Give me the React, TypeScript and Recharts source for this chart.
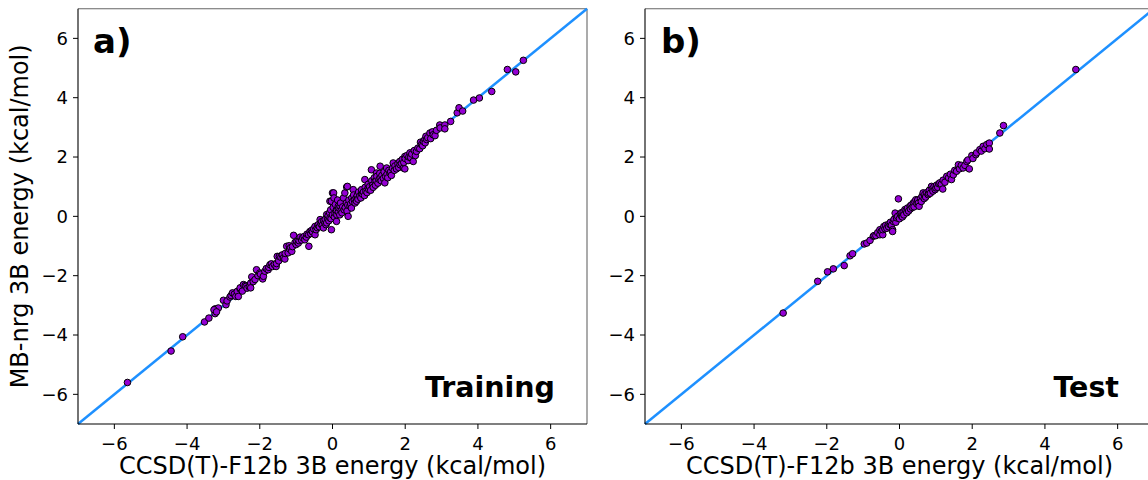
import React from 'react';
import { ScatterChart, Scatter, XAxis, YAxis, ReferenceLine } from 'recharts';

const tickValues = [-6, -4, -2, 0, 2, 4, 6];
const axisDomain: [number, number] = [-7, 7];
const xAxisTitle = 'CCSD(T)-F12b 3B energy (kcal/mol)';
const yAxisTitle = 'MB-nrg 3B energy (kcal/mol)';
const panelTags = ['a)', 'b)'];
const panelNames = ['Training', 'Test'];

// [reference CCSD(T)-F12b, MB-nrg] pairs, training set
const trainingPairs: [number, number][] = [
  [-5.64, -5.6], [-4.44, -4.54], [-4.12, -4.06], [-3.52, -3.56], [-3.4, -3.43], [-3.23, -3.28],
  [-3.23, -3.12], [-3.14, -3.09], [-3.26, -3.15], [-3.19, -3.22], [-3.0, -2.83], [-2.93, -2.98],
  [-2.9, -2.85], [-2.82, -2.72], [-2.79, -2.67], [-2.75, -2.58], [-2.7, -2.62], [-2.66, -2.7],
  [-2.62, -2.53], [-2.59, -2.7], [-2.54, -2.45], [-2.54, -2.41], [-2.48, -2.52], [-2.45, -2.3],
  [-2.4, -2.33], [-2.38, -2.36], [-2.35, -2.42], [-2.29, -2.38], [-2.25, -2.25], [-2.25, -2.41],
  [-2.22, -2.04], [-2.18, -2.2], [-2.13, -2.13], [-2.09, -1.8], [-2.05, -2.0], [-2.0, -1.91],
  [-1.98, -1.95], [-1.92, -2.11], [-1.9, -2.02], [-1.86, -1.85], [-1.82, -1.76], [-1.77, -1.8],
  [-1.75, -1.72], [-1.72, -1.63], [-1.68, -1.6], [-1.65, -1.69], [-1.6, -1.62], [-1.55, -1.69],
  [-1.54, -1.59], [-1.52, -1.35], [-1.48, -1.5], [-1.46, -1.35], [-1.42, -1.38], [-1.38, -1.3],
  [-1.35, -1.4], [-1.31, -1.44], [-1.3, -1.25], [-1.26, -1.01], [-1.22, -1.23], [-1.19, -0.99],
  [-1.18, -1.1], [-1.15, -1.05], [-1.12, -1.18], [-1.1, -1.02], [-1.07, -0.64], [-1.03, -0.88],
  [-1.0, -0.95], [-0.98, -0.85], [-0.94, -0.9], [-0.92, -0.82], [-0.89, -0.7], [-0.85, -0.8],
  [-0.82, -0.72], [-0.78, -0.68], [-0.76, -0.79], [-0.72, -0.7], [-0.7, -0.6], [-0.66, -0.62],
  [-0.65, -1.01], [-0.62, -0.51], [-0.6, -0.58], [-0.58, -0.48], [-0.55, -0.52], [-0.52, -0.42],
  [-0.48, -0.62], [-0.48, -0.34], [-0.45, -0.45], [-0.42, -0.38], [-0.4, -0.3], [-0.39, -0.28],
  [-0.36, -0.35], [-0.34, -0.11], [-0.32, -0.25], [-0.3, -0.18], [-0.28, -0.3], [-0.25, -0.39],
  [-0.24, -0.15], [-0.21, -0.22], [-0.2, -0.1], [-0.18, -0.28], [-0.16, -0.22], [-0.16, 0.06],
  [-0.14, -0.05], [-0.12, 0.02], [-0.1, -0.15], [-0.08, 0.12], [-0.07, -0.05], [-0.07, 0.51],
  [-0.05, 0.22], [-0.04, -0.08], [-0.03, -0.45], [-0.03, 0.51], [0.0, 0.05], [0.0, 0.79],
  [0.02, 0.3], [0.03, 0.79], [0.04, 0.62], [0.05, -0.02], [0.07, 0.11], [0.08, 0.4],
  [0.1, 0.2], [0.11, -0.17], [0.11, 0.17], [0.12, 0.05], [0.14, 0.55], [0.16, 0.34],
  [0.16, 0.15], [0.18, 0.28], [0.2, 0.05], [0.21, 0.34], [0.22, 0.45], [0.24, 0.2],
  [0.26, 0.12], [0.28, 0.32], [0.3, 0.62], [0.32, 0.22], [0.34, 0.79], [0.35, 0.3],
  [0.38, 0.45], [0.39, 0.99], [0.4, 0.18], [0.41, 1.01], [0.42, 0.38], [0.43, 0.0],
  [0.45, 0.55], [0.48, 0.35], [0.5, 0.42], [0.52, 0.28], [0.53, 0.62], [0.55, 0.5],
  [0.57, 0.9], [0.58, 0.72], [0.6, 0.55], [0.62, 0.45], [0.65, 0.62], [0.66, 0.51],
  [0.68, 0.7], [0.7, 0.58], [0.72, 0.82], [0.75, 0.68], [0.78, 0.62], [0.8, 0.79],
  [0.8, 0.9], [0.82, 0.75], [0.85, 0.82], [0.88, 0.7], [0.89, 1.24], [0.9, 0.98],
  [0.92, 0.85], [0.95, 0.8], [0.98, 0.96], [0.98, 1.08], [1.0, 0.9], [1.02, 1.0],
  [1.05, 0.88], [1.07, 1.57], [1.08, 1.2], [1.1, 1.05], [1.12, 0.98], [1.15, 1.3],
  [1.17, 1.18], [1.18, 1.05], [1.2, 1.2], [1.21, 1.46], [1.22, 1.35], [1.25, 1.12],
  [1.28, 1.25], [1.3, 1.45], [1.31, 1.69], [1.31, 1.29], [1.34, 1.2], [1.36, 1.38],
  [1.4, 1.28], [1.42, 1.5], [1.44, 1.13], [1.46, 1.35], [1.49, 1.63], [1.5, 1.42],
  [1.52, 1.3], [1.55, 1.55], [1.58, 1.46], [1.6, 1.5], [1.62, 1.38], [1.65, 1.62],
  [1.67, 1.8], [1.7, 1.55], [1.72, 1.7], [1.76, 1.6], [1.8, 1.78], [1.82, 1.65],
  [1.85, 1.85], [1.86, 1.74], [1.9, 1.78], [1.92, 1.92], [1.95, 1.63], [1.96, 1.82],
  [1.99, 1.6], [1.99, 2.02], [2.0, 1.95], [2.05, 2.05], [2.08, 1.88], [2.1, 2.0],
  [2.13, 2.14], [2.15, 1.98], [2.18, 2.1], [2.22, 1.85], [2.25, 2.22], [2.28, 2.05],
  [2.31, 2.19], [2.35, 2.3], [2.4, 2.28], [2.42, 2.5], [2.45, 2.42], [2.48, 2.38],
  [2.5, 2.53], [2.54, 2.59], [2.55, 2.48], [2.57, 2.7], [2.59, 2.59], [2.62, 2.65],
  [2.68, 2.81], [2.7, 2.62], [2.75, 2.85], [2.77, 2.75], [2.82, 2.72], [2.86, 2.9],
  [2.95, 3.08], [2.96, 2.98], [3.09, 3.08], [3.09, 2.95], [3.25, 3.2], [3.43, 3.49],
  [3.48, 3.66], [3.58, 3.55], [3.88, 3.92], [4.04, 3.99], [4.38, 4.21], [4.81, 4.95],
  [5.04, 4.87], [5.25, 5.26],
];

// [reference CCSD(T)-F12b, MB-nrg] pairs, test set
const testPairs: [number, number][] = [
  [-3.2, -3.26], [-2.25, -2.19], [-1.98, -1.87], [-1.82, -1.77], [-1.52, -1.66], [-1.36, -1.33],
  [-1.29, -1.26], [-0.97, -0.93], [-0.9, -0.9], [-0.81, -0.81], [-0.72, -0.67], [-0.7, -0.65],
  [-0.65, -0.65], [-0.6, -0.55], [-0.54, -0.45], [-0.54, -0.62], [-0.5, -0.5], [-0.46, -0.62],
  [-0.46, -0.45], [-0.43, -0.34], [-0.4, -0.42], [-0.38, -0.3], [-0.35, -0.4], [-0.31, -0.28],
  [-0.3, -0.35], [-0.26, -0.28], [-0.25, -0.2], [-0.22, -0.3], [-0.19, -0.45], [-0.19, -0.51],
  [-0.17, -0.17], [-0.15, -0.1], [-0.12, 0.11], [-0.1, -0.2], [-0.08, -0.05], [-0.05, 0.0],
  [-0.03, 0.59], [0.0, -0.08], [0.02, 0.08], [0.05, 0.12], [0.06, 0.0], [0.08, -0.02],
  [0.1, 0.15], [0.12, 0.05], [0.15, 0.23], [0.18, 0.2], [0.2, 0.12], [0.22, 0.28],
  [0.25, 0.18], [0.29, 0.34], [0.3, 0.25], [0.32, 0.38], [0.35, 0.3], [0.38, 0.45],
  [0.4, 0.32], [0.42, 0.5], [0.45, 0.56], [0.48, 0.42], [0.5, 0.55], [0.52, 0.45],
  [0.54, 0.34], [0.58, 0.6], [0.6, 0.5], [0.62, 0.68], [0.65, 0.79], [0.68, 0.6],
  [0.7, 0.75], [0.72, 0.65], [0.75, 0.8], [0.79, 0.73], [0.8, 0.78], [0.82, 0.88],
  [0.85, 0.78], [0.88, 1.01], [0.9, 0.92], [0.92, 0.85], [0.95, 1.0], [0.98, 0.9],
  [1.0, 0.96], [1.02, 1.05], [1.05, 0.98], [1.08, 1.1], [1.11, 1.13], [1.15, 1.08],
  [1.19, 0.92], [1.2, 1.22], [1.25, 1.15], [1.3, 1.35], [1.35, 1.3], [1.4, 1.42],
  [1.43, 1.24], [1.48, 1.4], [1.52, 1.55], [1.57, 1.52], [1.62, 1.74], [1.65, 1.6],
  [1.7, 1.72], [1.75, 1.63], [1.8, 1.72], [1.85, 1.85], [1.88, 1.9], [1.92, 1.6],
  [1.99, 2.05], [2.02, 1.95], [2.1, 2.08], [2.12, 2.14], [2.21, 2.25], [2.25, 2.2],
  [2.3, 2.36], [2.35, 2.28], [2.4, 2.42], [2.47, 2.47], [2.47, 2.27], [2.76, 2.81],
  [2.86, 3.06], [4.85, 4.95],
];

const toPoints = (pairs: [number, number][]) => pairs.map(([x, y]) => ({ x, y }));
const formatTick = (v: number) => (v < 0 ? `\u2212${Math.abs(v)}` : `${v}`);

const PointShape = (props: any) => (
  <circle cx={props.cx} cy={props.cy} r={3.3} fill="#9400D3" stroke="#000" strokeWidth={1} />
);

const FONT = "'DejaVu Sans', sans-serif";

function Panel({ data, width, yAxisWidth, showYTitle }: { data: { x: number; y: number }[]; width: number; yAxisWidth: number; showYTitle: boolean }) {
  return (
    <ScatterChart width={width} height={480} margin={{ top: 8.7, right: width - yAxisWidth - 509, bottom: 0, left: 0 }}>
      <XAxis
        type="number"
        dataKey="x"
        domain={axisDomain}
        ticks={tickValues}
        allowDataOverflow
        height={56}
        tickSize={5}
        tickMargin={8}
        tickFormatter={formatTick}
        tick={{ fill: '#000', fontSize: 18 }}
        stroke="#000"
        axisLine={{ stroke: '#000', strokeWidth: 1.1 }}
        tickLine={{ stroke: '#000', strokeWidth: 1 }}
        label={{ value: xAxisTitle, position: 'insideBottom', offset: 6, fontSize: 24, fill: '#000' }}
      />
      <YAxis
        type="number"
        dataKey="y"
        domain={axisDomain}
        ticks={tickValues}
        allowDataOverflow
        width={yAxisWidth}
        tickSize={5}
        tickMargin={5}
        tickFormatter={formatTick}
        tick={{ fill: '#000', fontSize: 18 }}
        stroke="#000"
        axisLine={{ stroke: '#000', strokeWidth: 1.1 }}
        tickLine={{ stroke: '#000', strokeWidth: 1 }}
        label={
          showYTitle
            ? { value: yAxisTitle, angle: -90, position: 'insideLeft', offset: 19, fontSize: 24, fill: '#000', style: { textAnchor: 'middle' } }
            : undefined
        }
      />
      <ReferenceLine segment={[{ x: -7, y: 7 }, { x: 7, y: 7 }]} stroke="#666" strokeWidth={1.1} ifOverflow="visible" />
      <ReferenceLine segment={[{ x: 7, y: -7 }, { x: 7, y: 7 }]} stroke="#666" strokeWidth={1.1} ifOverflow="visible" />
      <ReferenceLine segment={[{ x: -7, y: -7 }, { x: 7, y: 7 }]} stroke="#1E90FF" strokeWidth={2.5} ifOverflow="visible" />
      <Scatter data={data} shape={PointShape} isAnimationActive={false} />
    </ScatterChart>
  );
}

export default function App() {
  const trainData = toPoints(trainingPairs);
  const testData = toPoints(testPairs);
  return (
    <div style={{ position: 'absolute', left: 0, top: 0, width: 1148, height: 480, overflow: 'hidden', background: '#fff', fontFamily: FONT }}>
      <div style={{ position: 'absolute', left: 0, top: 0 }}>
        <Panel data={trainData} width={600} yAxisWidth={78} showYTitle={true} />
      </div>
      <div style={{ position: 'absolute', left: 585, top: 0 }}>
        <Panel data={testData} width={582} yAxisWidth={60} showYTitle={false} />
      </div>
      <svg width={1148} height={480} style={{ position: 'absolute', left: 0, top: 0, pointerEvents: 'none' }}>
        <text x={93} y={53} fontSize={34} fontWeight="bold" fill="#000" fontFamily={FONT}>{panelTags[0]}</text>
        <text x={555} y={397} fontSize={28.5} fontWeight="bold" fill="#000" textAnchor="end" fontFamily={FONT}>{panelNames[0]}</text>
        <text x={661} y={53} fontSize={34} fontWeight="bold" fill="#000" fontFamily={FONT}>{panelTags[1]}</text>
        <text x={1119} y={397} fontSize={28.5} fontWeight="bold" fill="#000" textAnchor="end" fontFamily={FONT}>{panelNames[1]}</text>
      </svg>
    </div>
  );
}
